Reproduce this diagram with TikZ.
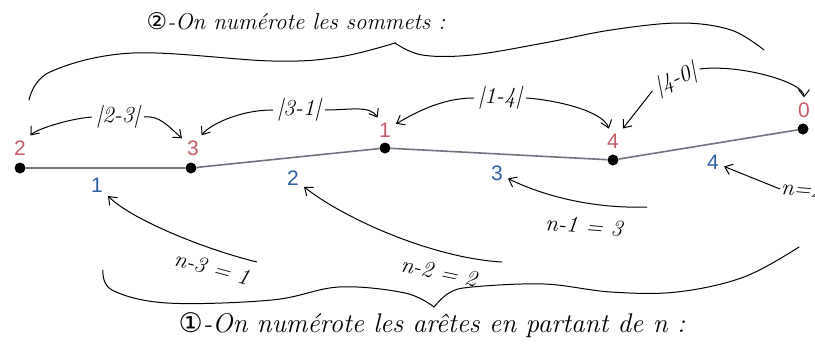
\documentclass[tikz,border=0pt]{standalone}
\usepackage{fontspec}
\newfontfamily\chiffres{Liberation Sans}
\newfontfamily\cercles{DejaVu Sans}
\usepackage{xcolor}
\usepackage{tikz}
\usetikzlibrary{arrows.meta}
\definecolor{rougesommet}{RGB}{196,92,104}
\definecolor{bleuarete}{RGB}{44,96,168}
\definecolor{grisarete}{RGB}{112,114,128}

\begin{document}
\begin{tikzpicture}[
    x=1pt, y=-1pt,
    sommet/.style={circle, fill=black, inner sep=0pt, minimum size=11pt},
    numsommet/.style={font=\chiffres\fontsize{21}{21}\selectfont, text=rougesommet, inner sep=5pt},
    numarete/.style={font=\chiffres\fontsize{21}{21}\selectfont, text=bleuarete, inner sep=5pt},
    ecart/.style={font=\itshape\fontsize{23}{23}\selectfont, inner sep=4pt},
    titre/.style={font=\itshape\fontsize{23}{23}\selectfont, inner sep=1pt},
    arete/.style={grisarete, line width=1.6pt},
    fleche/.style={-{Straight Barb[length=7pt,width=11pt]}, line width=1pt},
    accolade/.style={line width=1pt, line cap=round},
]
\path[use as bounding box] (0,0) rectangle (815,346);
\clip (0,0) rectangle (815,346);

% les sommets et les aretes
\node[sommet] (s2) at (20,168) {};
\node[sommet] (s3) at (191,168) {};
\node[sommet] (s1) at (385,148) {};
\node[sommet] (s4) at (613,160) {};
\node[sommet] (s0) at (803,129) {};
\draw[arete] (s2) -- (s3) -- (s1) -- (s4) -- (s0);

\node[numsommet] (l2) at (20,148) {2};
\node[numsommet] (l3) at (193,148) {3};
\node[numsommet] (l1) at (385,130) {1};
\node[numsommet] (l4) at (613,141) {4};
\node[numsommet] (l0) at (804,110) {0};

\node[numarete] (e1) at (97,185) {1};
\node[numarete] (e2) at (293,178) {2};
\node[numarete] (e3) at (497,173) {3};
\node[numarete] (e4) at (713,162) {4};

% numeros des sommets
\node[titre] (titre2) at (296,21) {{\cercles ②}-On numérote les sommets :};
\draw[accolade] plot[smooth, tension=0.6] coordinates {(29,100) (50,72) (133,53) (272,61) (339,57) (395,43)};
\draw[accolade] plot[smooth, tension=0.6] coordinates {(395,43) (422,55) (472,55) (544,43) (611,30) (680,23) (731,30) (764,50)};

\node[ecart] (d23) at (118,117) {|2-3|};
\node[ecart] (d31) at (299,110) {|3-1|};
\node[ecart] (d14) at (500,98) {|1-4|};
\node[ecart, rotate=25] (d40) at (676,80) {|4-0|};

\draw[fleche] (d23.west) .. controls +(-25,2) and +(15,-18) .. (l2);
\draw[fleche] (d23.east) .. controls +(15,-2) and +(-25,-22) .. (l3);
\draw[fleche] (d31.west) .. controls +(-35,0) and +(15,-22) .. (l3);
\draw[fleche] (d31.east) .. controls +(25,0) and +(-15,-25) .. (l1);
\draw[fleche] (d14.west) .. controls +(-35,0) and +(25,-14) .. (l1);
\draw[fleche] (d14.east) .. controls +(30,2) and +(-10,-30) .. (l4);
\draw[fleche] (d40.west) -- (l4);
\draw[fleche] (d40.east) .. controls +(40,-5) and +(0,-28) .. (l0);

% numeros des aretes
\node[titre, font=\itshape\fontsize{27}{27}\selectfont] (titre1) at (432,325) {{\cercles ①}-On numérote les arêtes en partant de n :};
\draw[accolade] plot[smooth, tension=0.6] coordinates {(103,270) (112,290) (167,303) (272,300) (339,287) (405,293) (434,307)};
\draw[accolade] plot[smooth, tension=0.6] coordinates {(434,307) (449,293) (472,287) (544,284) (611,292) (677,292) (744,277) (799,247)};

\node[ecart, rotate=-15] (n31) at (212,268) {n-3 = 1};
\node[ecart, rotate=-12] (n22) at (439,272) {n-2 = 2};
\node[ecart, rotate=-5] (n13) at (584,226) {n-1 = 3};
\node[ecart, anchor=west, inner sep=1pt, rotate=-5] (n04) at (780,189) {n=4};

\coordinate (t1) at (257,262);
\coordinate (t2) at (502,262);
\coordinate (t3) at (647,207);
\draw[fleche] (t1) .. controls +(-50,-12) and +(35,35) .. (e1);
\draw[fleche] (t2) .. controls +(-70,-4) and +(50,40) .. (e2);
\draw[fleche] (t3) .. controls +(-60,2) and +(40,20) .. (e3);
\draw[fleche] (n04.west) -- (e4);
\end{tikzpicture}
\end{document}
